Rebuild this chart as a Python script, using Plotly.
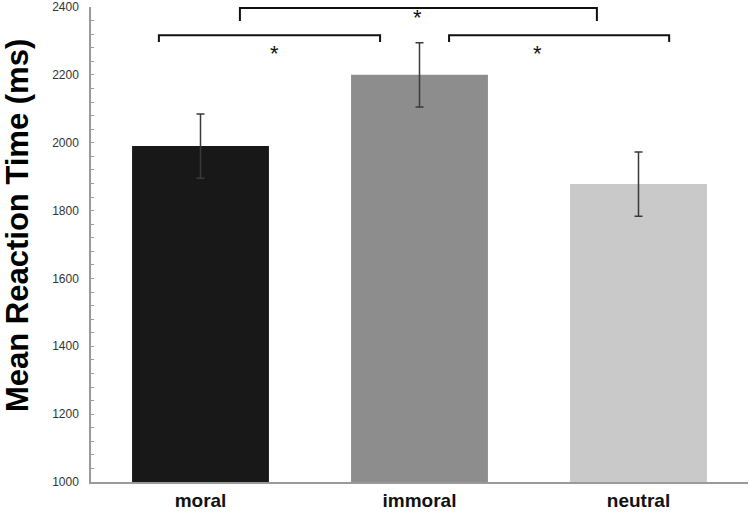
import plotly.graph_objects as go

categories = ["moral", "immoral", "neutral"]
mean_rt = [1990, 2200, 1878]
sem_rt = [95, 95, 95]
bar_colors = ["#181818", "#8d8d8d", "#c9c9c9"]

y_ticks = [1000, 1200, 1400, 1600, 1800, 2000, 2200, 2400]
y_title = "Mean Reaction Time (ms)"

# significance brackets
bracket_x0 = [0.18, -0.19, 1.135]
bracket_x1 = [1.81, 0.82, 2.14]
bracket_y = [2397, 2317, 2317]
bracket_drop = [2359, 2297, 2297]
star_x = [0.99, 0.34, 1.54]
star_y = [2370, 2264, 2264]
star_text = ["*", "*", "*"]

fig = go.Figure()
fig.add_trace(go.Bar(
    x=categories, y=mean_rt,
    marker=dict(color=bar_colors, line=dict(width=0)),
    width=0.625,
    error_y=dict(type="data", array=sem_rt, color="#3a3a3a", thickness=1.5, width=4),
))

shapes = []
for x0, x1, yl, yd in zip(bracket_x0, bracket_x1, bracket_y, bracket_drop):
    shapes.append(dict(type="path", xref="x", yref="y",
                       path=f"M {x0},{yd} L {x0},{yl} L {x1},{yl} L {x1},{yd}",
                       line=dict(color="#111111", width=2)))

annotations = []
for sx, sy, t in zip(star_x, star_y, star_text):
    annotations.append(dict(x=sx, y=sy, xref="x", yref="y", text=t, showarrow=False,
                            font=dict(size=22, color="#111111", family="Liberation Sans, Arial"),
                            yanchor="middle", xanchor="center"))

# y-axis title as rotated annotation (offset upward like the reference)
annotations.append(dict(x=(17 - 91) / 657, y=(482 - 226) / 475, xref="paper", yref="paper",
                        text=y_title, textangle=-90, showarrow=False,
                        xanchor="center", yanchor="middle",
                        font=dict(family="Liberation Sans, Arial", size=31, color="#000000",
                                  weight="bold")))

fig.update_layout(
    width=750, height=514,
    margin=dict(l=91, r=2, t=7, b=32, autoexpand=False),
    paper_bgcolor="white", plot_bgcolor="white",
    showlegend=False,
    shapes=shapes,
    annotations=annotations,
)
fig.update_xaxes(
    range=[-0.5, 2.5], automargin=False,
    showline=True, linecolor="#9a9a9a", linewidth=1.5,
    ticks="", showgrid=False,
    tickfont=dict(family="Liberation Sans, Arial", size=19, color="#111111", weight="bold"),
)
fig.update_yaxes(
    range=[1000, 2400], automargin=False,
    tickvals=y_ticks,
    showline=True, linecolor="#9a9a9a", linewidth=1.5,
    ticks="inside", ticklen=3, tickcolor="#9a9a9a",
    minor=dict(dtick=40, ticks="inside", ticklen=3, tickcolor="#9a9a9a", showgrid=False),
    showgrid=False, zeroline=False,
    tickfont=dict(family="Liberation Sans, Arial", size=12, color="#333333"),
    ticklabelstandoff=8,
)

fig.write_html("out.html", config={"displayModeBar": False},
               post_script="document.body.style.margin='0px';")
